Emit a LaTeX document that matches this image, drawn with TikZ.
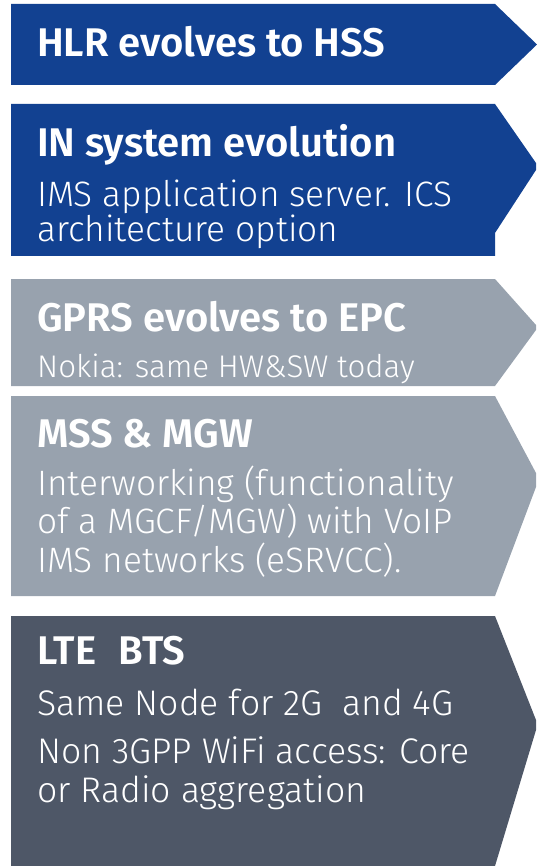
\documentclass[tikz,border=0pt]{standalone}
\usepackage{fontspec}
\setmainfont{Fira Sans}[UprightFont=* Light, BoldFont=* SemiBold]
\definecolor{nblue}{HTML}{124191}
\definecolor{ngrey}{HTML}{98A2AE}
\definecolor{nslate}{HTML}{4E5767}
\tikzset{
  head/.style={anchor=base west, inner sep=0pt, text=white, font=\bfseries\fontsize{#1}{#1}\selectfont},
  body/.style={anchor=base west, inner sep=0pt, text=white, font=\fontsize{#1}{#1}\selectfont},
}
\begin{document}
\begin{tikzpicture}[x=1pt, y=-1pt]
\useasboundingbox (0,0) rectangle (536,866);

% chevron panels
\fill[nblue]  (11,4) -- (495,4) -- (537,44.5) -- (495,85) -- (11,85) -- cycle;
\fill[nblue]  (11,104) -- (495,104) -- (536,163) -- (536,170) -- (495,233) -- (495,256) -- (11,256) -- cycle;
\fill[ngrey]  (11,279) -- (495,279) -- (536,325) -- (536,330) -- (495,386) -- (11,386) -- cycle;
\fill[ngrey]  (11,396) -- (495,396) -- (536,473) -- (536,487) -- (495,596) -- (11,596) -- cycle;
\fill[nslate] (11,616) -- (495,616) -- (536,720) -- (536,730) -- (495,866) -- (11,866) -- cycle;

% HLR
\node[head=40] (hlr) at (37,57) {HLR evolves to HSS};

% IN system
\node[head=40] (in) at (37,157) {IN system evolution};
\node[body=35.3] (in1) at (37,207) {IMS application server. ICS};
\node[body=35.3] (in2) at (37,242) {architecture option};

% GPRS
\node[head=40] (gprs) at (37,331) {GPRS evolves to EPC};
\node[body=31.3] (gprs1) at (37,377) {Nokia: same HW\&SW today};

% MSS
\node[head=40] (mss) at (37,447) {MSS \& MGW};
\node[body=35.3] (mss1) at (37,495) {Interworking (functionality};
\node[body=35.3] (mss2) at (37,533) {of a MGCF/MGW) with VoIP};
\node[body=35.3] (mss3) at (37,572) {IMS networks (eSRVCC).};

% LTE
\node[head=40] (lte) at (37,664) {LTE\hspace{22pt}BTS};
\node[body=35.6] (lte1) at (37,715) {Same Node for 2G\ \ and 4G};
\node[body=35.6] (lte2) at (37,763) {Non 3GPP WiFi access: Core};
\node[body=35.6] (lte3) at (37,802) {or Radio aggregation};
\end{tikzpicture}
\end{document}
